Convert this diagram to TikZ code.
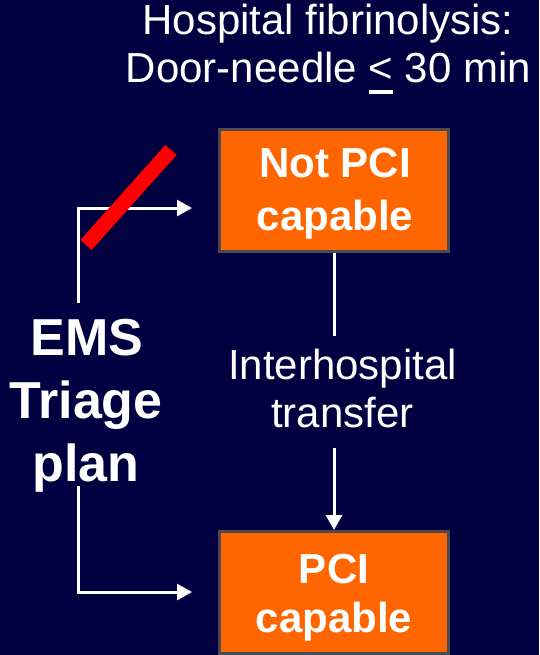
\documentclass[tikz,border=0pt]{standalone}
\usepackage{fontspec}
\setmainfont{Liberation Sans}
\usetikzlibrary{arrows.meta}

\definecolor{bgnavy}{RGB}{0,0,64}
\definecolor{boxorange}{RGB}{255,102,0}
\definecolor{boxedge}{RGB}{74,74,80}

% underline a glyph with a thick rule, as in a "less than or equal" sign
\newcommand\ulmark[1]{\setbox0=\hbox{#1}\rlap{\rule[-0.26em]{\wd0}{0.09em}}\box0\relax}

\tikzset{
  capbox/.style={draw=boxedge, line width=3pt, fill=boxorange,
    minimum width=229pt, minimum height=122pt, inner sep=0pt},
  boxtext/.style={text=white, inner sep=0pt, anchor=base,
    font=\fontsize{42}{50}\selectfont\bfseries},
  plaintext/.style={text=white, inner sep=0pt, anchor=base,
    font=\fontsize{42}{48}\selectfont},
  emstext/.style={text=white, inner sep=0pt, anchor=base,
    font=\fontsize{52}{63}\selectfont\bfseries},
  wline/.style={draw=white, line width=3pt},
  warrow/.style={wline, -{Triangle[length=15pt,width=16pt]}},
  slash/.style={draw=red, line width=15pt}
}

\begin{document}
\begin{tikzpicture}[x=1pt,y=-1pt]
  \useasboundingbox (0,0) rectangle (539,655);
  \clip (0,0) rectangle (539,655);
  \fill[bgnavy] (0,0) rectangle (539,655);

  % heading
  \node[plaintext] (title1) at (328,35) {Hospital fibrinolysis:};
  \node[plaintext] (title2) at (328.5,83) {Door-needle \ulmark{<} 30 min};

  % hospital boxes
  \node[capbox] (notpci) at (334,190.5) {};
  \node[boxtext] (notpci1) at (335,178) {Not PCI};
  \node[boxtext] (notpci2) at (335,230) {capable};

  \node[capbox] (pci) at (334,592.5) {};
  \node[boxtext] (pci1) at (334,583) {PCI};
  \node[boxtext] (pci2) at (334,632) {capable};

  % transfer label
  \node[plaintext] (transfer1) at (342.5,379) {Interhospital};
  \node[plaintext] (transfer2) at (342.5,427) {transfer};

  % triage label
  \node[emstext] (ems1) at (87,355) {EMS};
  \node[emstext] (ems2) at (86,418) {Triage};
  \node[emstext] (ems3) at (86,481) {plan};

  % connector end points
  \coordinate (emstop) at (78,303);
  \coordinate (emsbot) at (78,486);
  \coordinate (toptip) at (192,208);
  \coordinate (bottip) at (192,592);
  \coordinate (xferin) at (334,336);
  \coordinate (xferout) at (334,448);

  % connectors
  \draw[warrow] (emstop) |- (toptip);
  \draw[warrow] (emsbot) |- (bottip);
  \draw[wline] (notpci.south) -- (xferin);
  \draw[warrow] (xferout) -- (pci.north);

  % crossed-out route
  \draw[slash] (86,245) -- (171,150);
\end{tikzpicture}
\end{document}
